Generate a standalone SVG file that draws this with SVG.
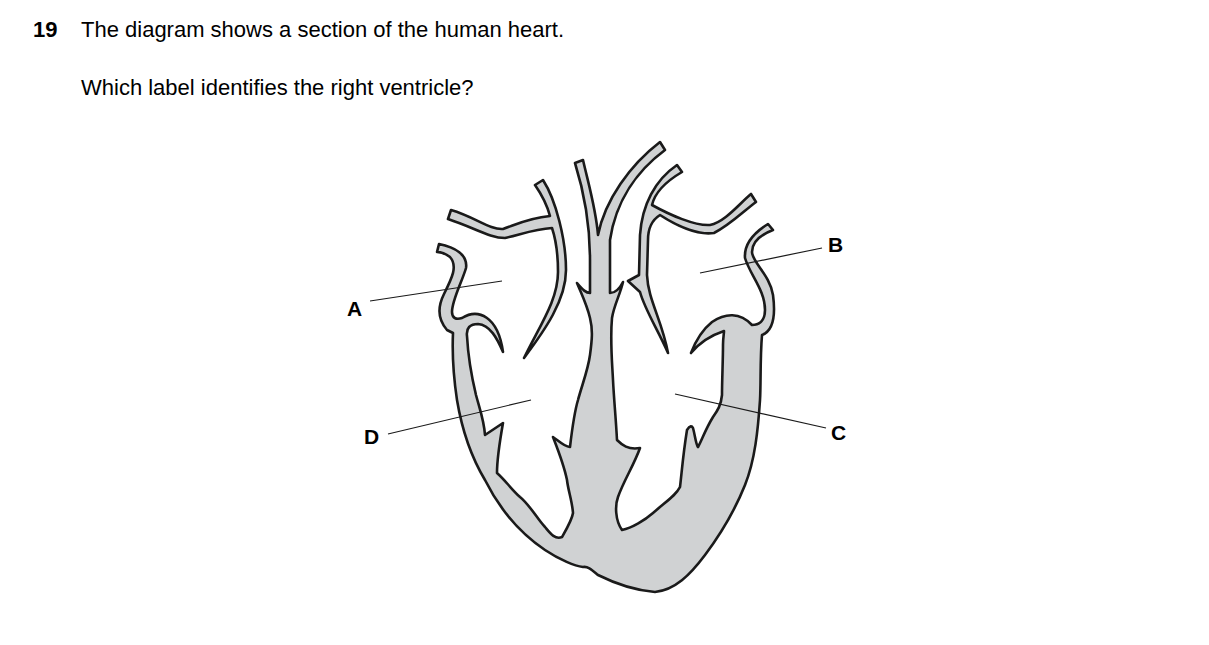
<svg xmlns="http://www.w3.org/2000/svg" width="1209" height="645" viewBox="0 0 1209 645">
<style>
.t{font-family:"Liberation Sans",Arial,sans-serif;font-size:22px;fill:#000}
.b{font-weight:bold}
.l{font-family:"Liberation Sans",Arial,sans-serif;font-size:21px;font-weight:bold;fill:#000}
.h{fill:#d0d2d3;stroke:#1a1a1a;stroke-width:2.6;stroke-linejoin:round}
.ln{stroke:#1a1a1a;stroke-width:1.2;fill:none}
</style>
<rect width="1209" height="645" fill="#fff"/>
<text class="t b" x="33" y="37">19</text>
<text class="t" x="81" y="37">The diagram shows a section of the human heart.</text>
<text class="t" x="81" y="95">Which label identifies the right ventricle?</text>
<g id="heart">
<path id="walls" class="h" d="M447,330 C440,322 436,310 444,294 C452,278 458,266 450,257 C446,254 442,252 437,252 L439,244 C455,247 468,255 466,268 C462,282 452,300 452,312 C452,318 456,320 462,318 C478,308 498,316 503,352 C497,338 490,325 478,324 C470,324 466,328 467,336 C468,355 470,370 476,395 C480,410 484,420 485,435 L503,423 C500,440 497,460 497,473 C505,480 512,490 520,497 C530,505 538,520 545,527 C550,533 555,540 562,537 C566,530 572,520 573,513 C572,500 568,490 567,480 C564,465 560,455 553,437 C558,440 563,446 570,447 C572,430 575,410 578,400 C582,385 588,370 590,355 C592,340 593,330 590,318 C587,305 582,295 577,283 C583,290 586,293 590,293 L590,260 C590,225 585,195 575,163 L583,160 C590,190 596,210 598,235 C605,200 630,165 660,142 L665,150 C638,170 616,200 610,240 L610,293 C615,293 619,290 623,282 C620,295 614,305 612,318 C610,340 612,360 613,380 C614,400 616,420 617,440 C622,445 628,450 640,448 C634,465 624,480 618,497 C615,505 615,520 622,530 C632,528 645,520 653,513 C668,500 676,495 680,487 C682,470 683,455 687,430 C690,425 692,426 693,428 C695,435 696,445 698,447 C702,440 705,430 713,417 C718,410 721,405 722,395 C722,380 723,360 723,345 C723,338 724,334 724,331 C712,335 700,342 691,353 C696,340 702,330 712,322 C725,313 740,312 752,325 C758,325 765,322 765,310 C765,290 750,275 745,258 C744,245 752,234 768,224 L773,230 C760,235 752,242 752,252 C752,262 770,275 773,295 C775,310 775,330 762,335 C760,360 761,383 760,400 C758,430 755,460 745,485 C735,510 720,535 705,555 C690,575 675,590 655,592 C630,590 612,582 598,575 C592,570 588,566 583,567 C575,566 560,560 545,550 C520,533 500,510 485,480 C470,455 462,430 457,400 C454,380 452,355 453,333 Z"/>
<path id="leftvessel" class="h" d="M535,185 L543,180 C556,200 566,240 566,270 C566,300 545,330 524,358 C540,325 558,300 558,272 C558,252 556,240 552,228 C535,229 522,234 505,238 C490,238 475,228 448,219 L451,210 C475,217 490,230 503,229 C515,225 528,218 550,216 C547,205 542,195 535,185 Z"/>
<path id="rightvessel" class="h" d="M677,165 L682,172 C665,182 655,192 652,205 C670,215 695,226 710,225 C725,222 740,203 751,194 L756,202 C745,210 730,225 714,233 C700,235 680,228 660,215 C652,220 648,228 648,240 L647,275 C648,300 662,320 668,353 C658,330 645,310 640,292 L628,281 L639,275 L640,235 C642,205 655,180 677,165 Z"/>
</g>
<g id="labels">
<line class="ln" x1="370" y1="301" x2="502" y2="281"/>
<text class="l" x="347" y="316">A</text>
<line class="ln" x1="700" y1="273" x2="822" y2="248"/>
<text class="l" x="828" y="252">B</text>
<line class="ln" x1="675" y1="394" x2="826" y2="428"/>
<text class="l" x="831" y="440">C</text>
<line class="ln" x1="388" y1="434" x2="531" y2="400"/>
<text class="l" x="364" y="444">D</text>
</g>
</svg>
